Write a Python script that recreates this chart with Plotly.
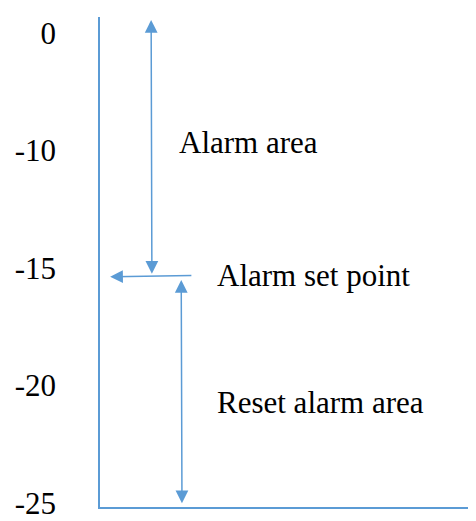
import plotly.graph_objects as go

# ---- data ----
levels = ["0", "-10", "-15", "-20", "-25"]          # scale labels (top to bottom)
set_point = "-15"                                   # alarm set point level
area_labels = ["Alarm area", "Alarm set point", "Reset alarm area"]

BLUE = "#5B9BD5"
FONT = "Liberation Serif"

idx = list(range(len(levels)))
sp = levels.index(set_point)
top = levels.index("0")
bottom = levels.index("-25")

fig = go.Figure()
fig.add_trace(go.Scatter(x=[0] * len(idx), y=idx, mode="markers",
                         marker=dict(opacity=0), hoverinfo="skip", showlegend=False))

arrow_common = dict(xref="x", yref="y", axref="x", ayref="y", text="",
                    showarrow=True, arrowcolor=BLUE, arrowwidth=1.5,
                    arrowhead=2, arrowsize=1.7)

# x axis spans 376 px of the 384 px plot width (rest is cut by the window edge)
XMAX = 384 / 376

# Alarm area: double-headed arrow from top to set point
fig.add_annotation(x=0.138, y=sp + 0.05, ax=0.136, ay=top - 0.12,
                   arrowside="end+start", startarrowhead=2, startarrowsize=1.7,
                   **arrow_common)
# Set point line pointing to the axis
fig.add_annotation(x=0.027, y=sp + 0.075, ax=0.247, ay=sp + 0.065, **arrow_common)
# Reset alarm area: double-headed arrow from set point to bottom
fig.add_annotation(x=0.218, y=bottom, ax=0.216, ay=sp + 0.09,
                   arrowside="end+start", startarrowhead=2, startarrowsize=1.7,
                   **arrow_common)

text_font = dict(family=FONT, size=31, color="black")
fig.add_annotation(x=0.205, y=(top + sp) / 2 - 0.07, text=area_labels[0], showarrow=False,
                   xanchor="left", yanchor="middle", font=text_font)
fig.add_annotation(x=0.306, y=sp + 0.06, text=area_labels[1], showarrow=False,
                   xanchor="left", yanchor="middle", font=text_font)
fig.add_annotation(x=0.306, y=(sp + bottom) / 2 + 0.14, text=area_labels[2], showarrow=False,
                   xanchor="left", yanchor="middle", font=text_font)

# page body has an 8px margin, so the figure is sized/margined to compensate
fig.update_layout(
    width=476, height=513,
    margin=dict(l=92, r=0, t=9, b=10),
    paper_bgcolor="white", plot_bgcolor="white",
    xaxis=dict(range=[0, XMAX], showline=True, linecolor=BLUE, linewidth=1.5,
               showgrid=False, zeroline=False, showticklabels=False, ticks=""),
    yaxis=dict(range=[4.032, -0.133], showline=True, linecolor=BLUE, linewidth=1.5,
               showgrid=False, zeroline=False, ticks="",
               tickvals=idx, ticktext=levels, ticklabelstandoff=36,
               ticklabeloverflow="allow",
               tickfont=dict(family=FONT, size=31, color="black")),
    showlegend=False,
)

fig.write_html("out.html")
